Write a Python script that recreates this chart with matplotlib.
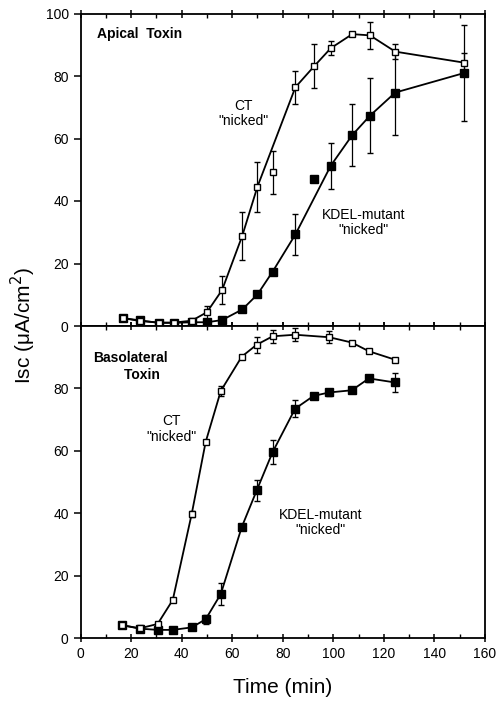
import matplotlib
matplotlib.use("Agg")
import matplotlib.pyplot as plt
from matplotlib.ticker import MultipleLocator
import numpy as np

plt.rcParams.update({
    "font.family": ["Liberation Sans", "DejaVu Sans"],
    "font.size": 10,
})

# ---- data ----
# Apical toxin
ap_t = [17, 23.5, 31, 37, 44, 50, 56, 64, 70, 76, 85, 92.5, 99, 107.5, 114.5, 124.5, 151.5]
ap_ct = [2.5, 1.6, 1.1, 1.1, 1.7, 4.4, 11.5, 28.9, 44.6, 49.2, 76.4, 83.2, 88.9, 93.4, 93.0, 87.8, 84.3]
ap_ct_err = [0, 0, 0, 0, 0, 2.0, 4.4, 7.7, 8.0, 6.9, 5.2, 6.9, 2.2, 0, 4.4, 2.4, 3.0]
ap_ct_online = [1, 1, 1, 1, 1, 1, 1, 1, 1, 0, 1, 1, 1, 1, 1, 1, 1]
ap_kdel = [2.5, 1.8, 1.0, 1.0, 1.2, 1.2, 1.9, 5.3, 10.1, 17.4, 29.3, 47.0, 51.3, 61.1, 67.3, 74.7, 80.9]
ap_kdel_err = [0, 0, 0, 0, 0, 0, 0, 0, 0, 0, 6.5, 0, 7.3, 10.0, 12.0, 13.5, 15.4]
ap_kdel_online = [1, 1, 1, 1, 1, 1, 1, 1, 1, 1, 1, 0, 1, 1, 1, 1, 1]

# Basolateral toxin
bl_t = [16.5, 23.5, 30.5, 36.5, 44, 49.5, 55.5, 63.8, 69.7, 76, 84.9, 92.2, 98.4, 107.3, 114.1, 124.4]
bl_ct = [4.1, 3.1, 4.5, 12.2, 39.8, 62.8, 79.2, 90.2, 94.0, 96.7, 97.2, None, 96.4, 94.7, 91.9, 89.2]
bl_ct_err = [0, 0, 0, 0, 1.0, 0, 1.5, 0, 2.5, 2.0, 2.0, 0, 2.0, 0, 0, 0]
bl_kdel = [4.1, 3.0, 2.6, 2.6, 3.4, 6.0, 14.1, 35.6, 47.3, 59.6, 73.5, 77.6, 78.7, 79.4, 83.2, 81.9]
bl_kdel_err = [0, 0, 0, 0, 0, 1.5, 3.5, 1.0, 3.5, 3.8, 2.8, 0, 1.0, 0, 1.0, 3.0]

W, H = 499, 702
fig = plt.figure(figsize=(W / 100, H / 100), dpi=100)
x0, x1 = 80.5, 485
y_top, y_mid, y_bot = 13.5, 326, 638
ax_top = fig.add_axes([x0 / W, (H - y_mid) / H, (x1 - x0) / W, (y_mid - y_top) / H])
ax_bot = fig.add_axes([x0 / W, (H - y_bot) / H, (x1 - x0) / W, (y_bot - y_mid) / H])


def draw_series(ax, t, v, err, online, filled):
    t = np.array(t, dtype=float)
    v = np.array([np.nan if a is None else a for a in v], dtype=float)
    err = np.array(err, dtype=float)
    online = np.array(online, dtype=bool) & ~np.isnan(v)
    ax.plot(t[online], v[online], "-", color="black", lw=1.3, zorder=3)
    ok = ~np.isnan(v)
    e = err > 0
    ax.errorbar(t[e], v[e], yerr=err[e], fmt="none", ecolor="black",
                elinewidth=0.9, capsize=2.2, capthick=1.0, zorder=2)
    if filled:
        ax.plot(t[ok], v[ok], "s", ms=5.5, mfc="black", mec="black", zorder=4)
    else:
        ax.plot(t[ok], v[ok], "s", ms=4.5, mfc="white", mec="black", mew=1.0, zorder=5)


ones = [1] * len(bl_t)
draw_series(ax_top, ap_t, ap_kdel, ap_kdel_err, ap_kdel_online, True)
draw_series(ax_top, ap_t, ap_ct, ap_ct_err, ap_ct_online, False)
draw_series(ax_bot, bl_t, bl_kdel, bl_kdel_err, ones, True)
draw_series(ax_bot, bl_t, bl_ct, bl_ct_err, ones, False)

for ax in (ax_top, ax_bot):
    ax.set_xlim(0, 160)
    ax.set_ylim(0, 100)
    for s in ax.spines.values():
        s.set_linewidth(1.3)
    ax.xaxis.set_major_locator(MultipleLocator(20))
    ax.xaxis.set_minor_locator(MultipleLocator(10))
    ax.tick_params(axis="x", which="major", direction="inout", length=6, width=1.1,
                   top=True, labelsize=10)
    ax.tick_params(axis="x", which="minor", direction="in", length=3, width=1.0, top=True)
    ax.tick_params(axis="y", which="major", direction="out", length=5, width=1.1, labelsize=10)

ax_top.set_yticks([0, 20, 40, 60, 80, 100])
ax_top.tick_params(axis="x", labelbottom=False)
ax_bot.set_yticks([0, 20, 40, 60, 80])

ax_bot.set_xticks(range(0, 161, 20))
ax_bot.set_xlabel("Time (min)", fontsize=15, labelpad=12)
fig.text(23 / W, 1 - 326 / H, "Isc (\u03bcA/cm$^2$)", rotation=90, ha="center",
         va="center", fontsize=15)

ax_top.text(0.042, 0.935, "Apical  Toxin", transform=ax_top.transAxes,
            fontsize=10, fontweight="bold", va="center")
ax_bot.text(0.03, 0.87, "Basolateral\n        Toxin", transform=ax_bot.transAxes,
            fontsize=10, fontweight="bold", va="center", linespacing=1.2)

ax_top.text(64.5, 68, "CT\n\"nicked\"", ha="center", va="center", fontsize=10, linespacing=1.1)
ax_top.text(112, 33, "KDEL-mutant\n\"nicked\"", ha="center", va="center", fontsize=10, linespacing=1.1)
ax_bot.text(36, 67, "CT\n\"nicked\"", ha="center", va="center", fontsize=10, linespacing=1.1)
ax_bot.text(95, 37, "KDEL-mutant\n\"nicked\"", ha="center", va="center", fontsize=10, linespacing=1.1)

fig.savefig("out.png", dpi=100)
